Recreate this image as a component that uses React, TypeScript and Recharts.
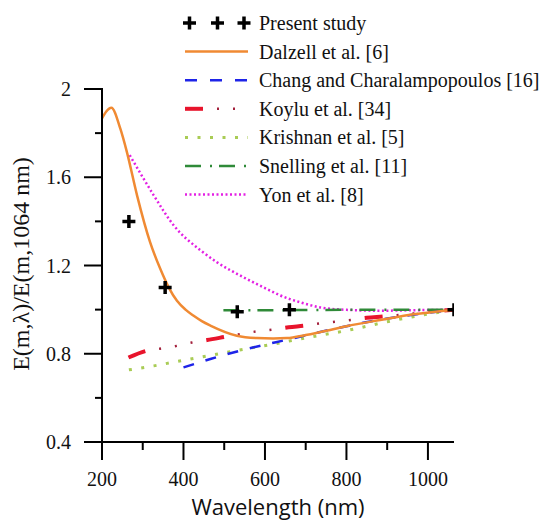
import React from 'react';
import { ComposedChart, Line, Scatter, XAxis, YAxis, Legend, ReferenceLine } from 'recharts';

// wavelengths (nm) and E(m,λ)/E(m,1064 nm)
const presentWl = [266, 355, 532, 660, 1064];
const presentE = [1.4, 1.1, 0.99, 1.0, 1.0];

const dalzellWl = [200, 210, 223, 245, 261, 286, 318, 343, 364, 384, 405, 425, 445, 466, 531, 580, 620, 654, 700, 760, 800, 883, 970, 1064];
const dalzellE = [1.867, 1.897, 1.915, 1.82, 1.715, 1.518, 1.306, 1.185, 1.1, 1.04, 1.0, 0.972, 0.948, 0.928, 0.882, 0.871, 0.869, 0.871, 0.885, 0.908, 0.925, 0.953, 0.98, 1.0];

const changWl = [400, 466, 539, 597, 650, 715, 800, 885, 1064];
const changE = [0.738, 0.776, 0.814, 0.84, 0.862, 0.89, 0.925, 0.955, 1.0];

const koyluWl = [265, 310, 346, 384, 421, 458, 503, 539, 578, 617, 658, 700, 736, 773, 811, 850, 891, 950, 1064];
const koyluE = [0.783, 0.814, 0.824, 0.836, 0.851, 0.862, 0.877, 0.889, 0.901, 0.909, 0.92, 0.928, 0.938, 0.945, 0.953, 0.963, 0.969, 0.98, 1.0];

const krishnanWl = [266, 327, 384, 417, 474, 564, 621, 700, 800, 900, 1064];
const krishnanE = [0.727, 0.745, 0.765, 0.776, 0.795, 0.826, 0.844, 0.872, 0.905, 0.945, 1.0];

const snellingWl = [498, 700, 900, 1064];
const snellingE = [0.997, 0.998, 1.0, 1.0];

const yonWl = [268, 300, 327, 376, 441, 482, 547, 613, 638, 687, 736, 801, 883, 960, 1064];
const yonE = [1.7, 1.6, 1.518, 1.382, 1.27, 1.215, 1.147, 1.086, 1.064, 1.033, 1.01, 0.999, 0.995, 0.997, 1.0];

const xMajorTicks = [200, 400, 600, 800, 1000];
const xMinorTicks = [300, 500, 700, 900];
const yMajorTicks = [0.4, 0.8, 1.2, 1.6, 2];
const yMinorTicks = [0.6, 1.0, 1.4, 1.8];

const zip = (xs: number[], ys: number[]) => xs.map((x, i) => ({ x, y: ys[i] }));

const present = zip(presentWl, presentE);
const dalzell = zip(dalzellWl, dalzellE);
const chang = zip(changWl, changE);
const koylu = zip(koyluWl, koyluE);
const krishnan = zip(krishnanWl, krishnanE);
const snelling = zip(snellingWl, snellingE);
const yon = zip(yonWl, yonE);

const SERIF = 'Liberation Serif, Times New Roman, Times, serif';
const ORANGE = '#F08A33';
const BLUE = '#1E24E8';
const RED = '#E8142C';
const DARKRED = '#A3203C';
const YGREEN = '#A9CC55';
const GREEN = '#2F8A38';
const MAGENTA = '#E320E3';

const KOYLU_DASH = '18 62';
const KOYLU_DOTS = '0 32 2 14 2 14 2 14';

const serifText = { fontFamily: SERIF, fontSize: 20, fill: '#111' };
const axisLine = { stroke: '#000', strokeWidth: 2 };

const Plus = (props: any) => {
  const { cx, cy } = props;
  if (cx == null || cy == null) return null;
  return (
    <path
      d={`M${cx - 6.5},${cy}H${cx + 6.5}M${cx},${cy - 6.5}V${cy + 6.5}`}
      stroke="#000"
      strokeWidth={3.5}
      fill="none"
    />
  );
};

// tick stubs drawn outside the plot at the end of a reference line
const xTickShape = (len: number) => (p: any) => {
  const yb = Math.max(p.y1, p.y2);
  return <line x1={p.x1} x2={p.x1} y1={yb - 1} y2={yb + len} stroke="#000" strokeWidth={2} />;
};
const yTickShape = (len: number) => (p: any) => {
  const xl = Math.min(p.x1, p.x2);
  return <line x1={xl - len} x2={xl + 1} y1={p.y1} y2={p.y1} stroke="#000" strokeWidth={2} />;
};
const XMajor = xTickShape(18);
const XMinor = xTickShape(8);
const YMajor = yTickShape(18);
const YMinor = yTickShape(7);

const legendRows = [
  'Present study',
  'Dalzell et al. [6]',
  'Chang and Charalampopoulos [16]',
  'Koylu et al. [34]',
  'Krishnan et al. [5]',
  'Snelling et al. [11]',
  'Yon et al. [8]',
];

const LegendBox = () => {
  const x0 = 185;
  const x1 = 248;
  const rowY = (i: number) => 23 + i * 28.6;
  const seg = (i: number, stroke: string, w: number, dash?: string) => (
    <line x1={x0} x2={x1} y1={rowY(i)} y2={rowY(i)} stroke={stroke} strokeWidth={w} strokeDasharray={dash} />
  );
  return (
    <svg width={544} height={220} style={{ display: 'block' }}>
      {[189.5, 217.5, 244].map((px) => (
        <Plus key={px} cx={px} cy={rowY(0)} />
      ))}
      {seg(1, ORANGE, 2.5)}
      {seg(2, BLUE, 2.5, '12 13')}
      {seg(3, RED, 4, KOYLU_DASH)}
      {seg(3, DARKRED, 2.4, KOYLU_DOTS)}
      {seg(4, YGREEN, 3, '3 9.5')}
      {seg(5, GREEN, 2.5, '16 9 2 7')}
      {seg(6, MAGENTA, 2.5, '2 2.5')}
      {legendRows.map((name, i) => (
        <text key={name} x={259} y={rowY(i) + 7} style={serifText}>
          {name}
        </text>
      ))}
    </svg>
  );
};

const YTitle = () => (
  <text
    x={29}
    y={264}
    transform="rotate(-90 29 264)"
    textAnchor="middle"
    style={{ fontFamily: SERIF, fontSize: 24, fill: '#111' }}
  >
    E(m,λ)/E(m,1064 nm)
  </text>
);

export default function App() {
  return (
    <div style={{ position: 'absolute', left: 0, top: 0, width: 544, height: 522, background: '#fff' }}>
      <ComposedChart width={544} height={522} margin={{ top: 89, right: 90, left: 0, bottom: 0 }}>
        <XAxis
          dataKey="x"
          type="number"
          domain={[200, 1064]}
          ticks={xMajorTicks}
          allowDataOverflow
          interval={0}
          height={80}
          tickSize={18}
          tickMargin={12}
          tick={serifText}
          tickLine={false}
          axisLine={axisLine}
          label={{
            value: 'Wavelength (nm)',
            position: 'insideBottom',
            offset: 7,
            style: { fontFamily: '"Open Sans", sans-serif', fontSize: 22, fill: '#111' },
          }}
        />
        <YAxis
          type="number"
          domain={[0.4, 2]}
          ticks={yMajorTicks}
          allowDataOverflow
          interval={0}
          width={102}
          tickSize={18}
          tickMargin={13}
          tick={serifText}
          tickLine={false}
          axisLine={axisLine}
          label={YTitle}
        />
        <Legend
          layout="vertical"
          align="center"
          verticalAlign="middle"
          content={LegendBox}
          wrapperStyle={{ position: 'absolute', left: 0, top: 0, width: 544, height: 220 }}
        />
        {xMajorTicks.map((v) => (
          <ReferenceLine key={`Mx${v}`} x={v} shape={XMajor} ifOverflow="visible" />
        ))}
        {xMinorTicks.map((v) => (
          <ReferenceLine key={`mx${v}`} x={v} shape={XMinor} ifOverflow="visible" />
        ))}
        {yMajorTicks.map((v) => (
          <ReferenceLine key={`My${v}`} y={v} shape={YMajor} ifOverflow="visible" />
        ))}
        {yMinorTicks.map((v) => (
          <ReferenceLine key={`my${v}`} y={v} shape={YMinor} ifOverflow="visible" />
        ))}
        <Line data={yon} dataKey="y" type="monotone" stroke={MAGENTA} strokeWidth={2.5} strokeDasharray="2 2.5" dot={false} activeDot={false} isAnimationActive={false} legendType="none" />
        <Line data={snelling} dataKey="y" type="linear" stroke={GREEN} strokeWidth={2.5} strokeDasharray="16 9 2 7" dot={false} activeDot={false} isAnimationActive={false} legendType="none" />
        <Line data={krishnan} dataKey="y" type="monotone" stroke={YGREEN} strokeWidth={3} strokeDasharray="3 9.5" dot={false} activeDot={false} isAnimationActive={false} legendType="none" />
        <Line data={chang} dataKey="y" type="monotone" stroke={BLUE} strokeWidth={2.5} strokeDasharray="11 12" dot={false} activeDot={false} isAnimationActive={false} legendType="none" />
        <Line data={koylu} dataKey="y" type="monotone" stroke={RED} strokeWidth={4} strokeDasharray={KOYLU_DASH} dot={false} activeDot={false} isAnimationActive={false} legendType="none" />
        <Line data={koylu} dataKey="y" type="monotone" stroke={DARKRED} strokeWidth={2.4} strokeDasharray={KOYLU_DOTS} dot={false} activeDot={false} isAnimationActive={false} legendType="none" />
        <Line data={dalzell} dataKey="y" type="monotone" stroke={ORANGE} strokeWidth={2.5} dot={false} activeDot={false} isAnimationActive={false} legendType="none" />
        <Scatter data={present} dataKey="y" shape={Plus} isAnimationActive={false} legendType="none" />
      </ComposedChart>
    </div>
  );
}
